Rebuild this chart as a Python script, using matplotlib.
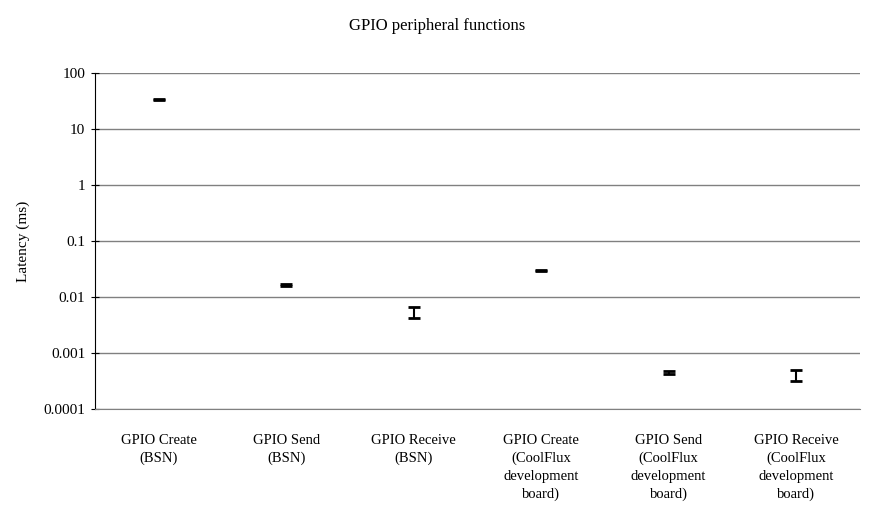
import numpy as np
import matplotlib.pyplot as plt

plt.rcParams['font.family'] = ['Liberation Serif', 'DejaVu Serif']

categories = ["GPIO Create\n(BSN)", "GPIO Send\n(BSN)", "GPIO Receive\n(BSN)",
              "GPIO Create\n(CoolFlux\ndevelopment\nboard)",
              "GPIO Send\n(CoolFlux\ndevelopment\nboard)",
              "GPIO Receive\n(CoolFlux\ndevelopment\nboard)"]
latency = [33.5, 0.0166, 0.0053, 0.030, 0.00045, 0.00040]
err_low = [0.8, 0.0008, 0.0011, 0.0006, 0.00003, 0.00009]
err_high = [0.8, 0.0008, 0.0013, 0.0006, 0.00003, 0.00010]
yticks = [0.0001, 0.001, 0.01, 0.1, 1, 10, 100]
ytick_labels = ["0.0001", "0.001", "0.01", "0.1", "1", "10", "100"]

fig = plt.figure(figsize=(8.75, 5.15), dpi=100)
ax = fig.add_axes([0.1086, 0.206, 0.874, 0.652])

x = np.arange(len(categories))
ax.errorbar(x, latency, yerr=[err_low, err_high], fmt='none', ecolor='black',
            elinewidth=1.5, capsize=4, capthick=2)

ax.set_yscale('log')
ax.set_ylim(0.0001, 100)
ax.set_xlim(-0.5, len(categories) - 0.5)
ax.set_yticks(yticks)
ax.set_yticklabels(ytick_labels)
ax.minorticks_off()
ax.yaxis.grid(True, color='#808080', linewidth=1)
ax.set_axisbelow(True)

ax.set_xticks(x)
ax.set_xticklabels(categories, fontsize=10.5, linespacing=1.45)
ax.tick_params(axis='x', length=0, pad=18)
ax.tick_params(axis='y', direction='inout', length=6, labelsize=11, pad=4)

for s in ['top', 'right']:
    ax.spines[s].set_visible(False)
ax.spines['bottom'].set_color('#808080')
ax.spines['left'].set_color('black')

ax.set_ylabel("Latency (ms)", fontsize=11, labelpad=10)
fig.suptitle("GPIO peripheral functions", fontsize=12, y=0.965)

fig.savefig("out.png", dpi=100)
